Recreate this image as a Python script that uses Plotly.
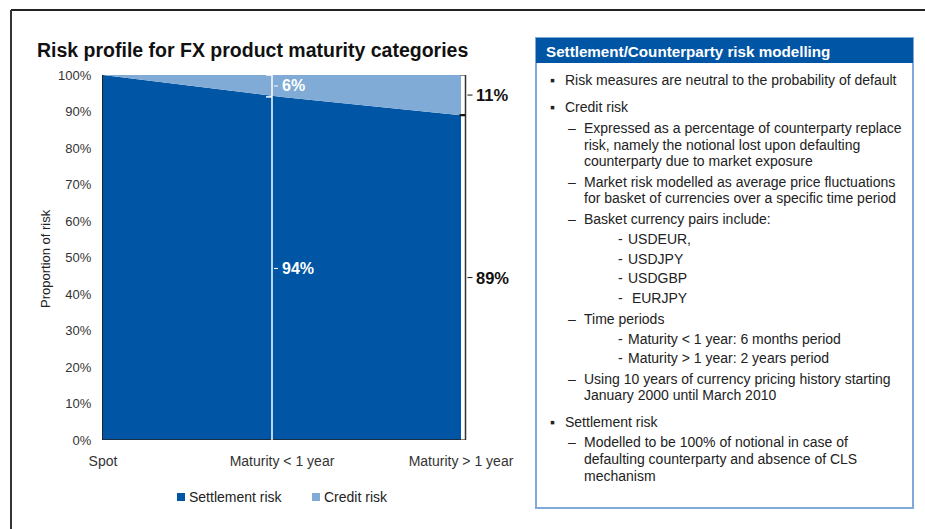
import plotly.graph_objects as go

# ---------------- data ----------------
categories = ["Spot", "Maturity < 1 year", "Maturity > 1 year"]
settlement_risk = [100, 94, 89]
credit_risk = [0, 6, 11]
y_tick_values = [0, 10, 20, 30, 40, 50, 60, 70, 80, 90, 100]
y_tick_labels = [f"{v}%" for v in y_tick_values]
series_names = ["Settlement risk", "Credit risk"]

title_text = "Risk profile for FX product maturity categories"
y_title = "Proportion of risk"
panel_title = "Settlement/Counterparty risk modelling"
panel_items = [
    (0, "Risk measures are neutral to the probability of default"),
    (0, "Credit risk"),
    (1, "Expressed as a percentage of counterparty replace"),
    (-1, "risk, namely the notional lost upon defaulting"),
    (-1, "counterparty due to market exposure"),
    (1, "Market risk modelled as average price fluctuations"),
    (-1, "for basket of currencies over a specific time period"),
    (1, "Basket currency pairs include:"),
    (2, "USDEUR,"),
    (2, "USDJPY"),
    (2, "USDGBP"),
    (2, "\u00a0EURJPY"),
    (1, "Time periods"),
    (2, "Maturity < 1 year: 6 months period"),
    (2, "Maturity > 1 year: 2 years period"),
    (1, "Using 10 years of currency pricing history starting"),
    (-1, "January 2000 until March 2010"),
    (0, "Settlement risk"),
    (1, "Modelled to be 100% of notional in case of"),
    (-1, "defaulting counterparty and absence of CLS"),
    (-1, "mechanism"),
]

# ---------------- layout constants ----------------
W, H = 925, 529
L, R, T, B = 103, 405, 75, 89
PW = W - L - R
PH = H - T - B
UNIT = 179.0
X_MAX = PW / UNIT
PLOT_BOTTOM = H - B

DARK = "#0055A5"
LIGHT = "#80ABD6"
FONT = "Liberation Sans, Arial, sans-serif"


def pxx(p):
    return (p - L) / PW


def pxy(p):
    return (PLOT_BOTTOM - p) / PH


fig = go.Figure()
xs = list(range(len(categories)))
fig.add_trace(go.Scatter(x=xs, y=settlement_risk, stackgroup="one", mode="none",
                         fillcolor=DARK, name=series_names[0], showlegend=False,
                         hoverinfo="skip"))
fig.add_trace(go.Scatter(x=xs, y=credit_risk, stackgroup="one", mode="none",
                         fillcolor=LIGHT, name=series_names[1], showlegend=False,
                         hoverinfo="skip"))

shapes = []
annotations = []

# bottom axis line (only under the area)
shapes.append(dict(type="line", xref="x", yref="y", x0=0, x1=xs[-1], y0=0, y1=0,
                   line=dict(color="#222", width=1.5)))

# ----- middle white bracket (Maturity < 1 year) -----
mid = 1
mx = mid - 10 / UNIT
top_mid = settlement_risk[mid] + credit_risk[mid]
shapes.append(dict(type="line", xref="x", yref="y", x0=mx, x1=mx, y0=0, y1=top_mid,
                   line=dict(color="white", width=1.5)))
for yv in (top_mid, settlement_risk[mid]):
    shapes.append(dict(type="line", xref="x", yref="y", x0=mx - 6 / UNIT, x1=mx, y0=yv, y1=yv,
                       line=dict(color="white", width=1.5)))
lab_mid = [(settlement_risk[mid] + credit_risk[mid] / 2, credit_risk[mid]),
           (settlement_risk[mid] / 2, settlement_risk[mid])]
for yv, val in lab_mid:
    shapes.append(dict(type="line", xref="x", yref="y", x0=mx + 2 / UNIT, x1=mx + 6 / UNIT,
                       y0=yv, y1=yv, line=dict(color="white", width=1)))
    annotations.append(dict(xref="x", yref="y", x=mx + 8 / UNIT, y=yv, text=f"{val}%",
                            showarrow=False, xanchor="left", yanchor="middle",
                            font=dict(family=FONT, size=16, color="white", weight="bold")))

# ----- right black bracket (Maturity > 1 year) -----
last = len(categories) - 1
rx = last + 4.5 / UNIT
top_last = settlement_risk[last] + credit_risk[last]
shapes.append(dict(type="line", xref="x", yref="y", x0=rx, x1=rx, y0=0, y1=top_last,
                   line=dict(color="#333", width=1.5)))
for yv, w in ((top_last, 1.2), (0, 1.2)):
    shapes.append(dict(type="line", xref="x", yref="y", x0=rx - 5 / UNIT, x1=rx, y0=yv, y1=yv,
                       line=dict(color="#333", width=w)))
shapes.append(dict(type="line", xref="x", yref="y", x0=rx - 6 / UNIT, x1=rx, y0=settlement_risk[last],
                   y1=settlement_risk[last], line=dict(color="#111", width=2.2)))
lab_last = [(settlement_risk[last] + credit_risk[last] / 2, credit_risk[last]),
            (settlement_risk[last] / 2, settlement_risk[last])]
for yv, val in lab_last:
    shapes.append(dict(type="line", xref="x", yref="y", x0=rx + 2 / UNIT, x1=rx + 7 / UNIT,
                       y0=yv, y1=yv, line=dict(color="#111", width=1)))
    annotations.append(dict(xref="x", yref="y", x=rx + 8 / UNIT, y=yv, text=f"{val}%",
                            showarrow=False, xanchor="left", yanchor="middle",
                            font=dict(family=FONT, size=16.5, color="#111", weight="bold")))

# ----- title -----
annotations.append(dict(xref="paper", yref="paper", x=pxx(35), y=pxy(50), text=title_text,
                        showarrow=False, xanchor="left", yanchor="middle",
                        font=dict(family=FONT, size=19.5, color="#111", weight="bold")))
# y axis title
annotations.append(dict(xref="paper", yref="paper", x=pxx(45), y=pxy(259), text=y_title,
                        showarrow=False, textangle=-90, xanchor="center", yanchor="middle",
                        font=dict(family=FONT, size=13, color="#222")))

# ----- legend (manual) -----
leg = [(177, series_names[0], DARK), (312, series_names[1], LIGHT)]
for lx, name, col in leg:
    shapes.append(dict(type="rect", xref="paper", yref="paper", x0=pxx(lx), x1=pxx(lx + 8),
                       y0=pxy(501), y1=pxy(493), fillcolor=col, line=dict(width=0)))
    annotations.append(dict(xref="paper", yref="paper", x=pxx(lx + 10), y=pxy(497), text=name,
                            showarrow=False, xanchor="left", yanchor="middle",
                            font=dict(family=FONT, size=14, color="#222")))

# ----- outer frame -----
shapes.append(dict(type="line", xref="paper", yref="paper", x0=pxx(11), x1=pxx(W), y0=pxy(10), y1=pxy(10),
                   line=dict(color="#222", width=2)))
shapes.append(dict(type="line", xref="paper", yref="paper", x0=pxx(11), x1=pxx(11), y0=pxy(10), y1=pxy(H),
                   line=dict(color="#333", width=2)))

# ----- right panel -----
shapes.append(dict(type="rect", xref="paper", yref="paper", x0=pxx(536), x1=pxx(913),
                   y0=pxy(508), y1=pxy(38), fillcolor="white", line=dict(color="#7EA9D8", width=2)))
shapes.append(dict(type="rect", xref="paper", yref="paper", x0=pxx(536), x1=pxx(913),
                   y0=pxy(63), y1=pxy(38), fillcolor=DARK, line=dict(width=0)))
annotations.append(dict(xref="paper", yref="paper", x=pxx(544), y=pxy(51), text=panel_title,
                        showarrow=False, xanchor="left", yanchor="middle",
                        font=dict(family=FONT, size=15.2, color="white", weight="bold")))

line_y = [80, 107, 128, 145, 161, 182, 198, 219, 239, 259, 278, 298, 319, 339, 358, 379, 395,
          422, 442, 459, 476]
markers = {0: ("\u25aa", 548, 563), 1: ("\u2013", 566, 582), 2: ("-", 616, 626)}
cur_level = 0
for (lvl, txt), yy in zip(panel_items, line_y):
    if lvl >= 0:
        cur_level = lvl
        mk, mkx, _ = markers[lvl]
        annotations.append(dict(xref="paper", yref="paper", x=pxx(mkx), y=pxy(yy), text=mk,
                                showarrow=False, xanchor="left", yanchor="middle",
                                font=dict(family=FONT, size=14, color="#222")))
    tx = markers[cur_level][2]
    annotations.append(dict(xref="paper", yref="paper", x=pxx(tx), y=pxy(yy), text=txt,
                            showarrow=False, xanchor="left", yanchor="middle",
                            font=dict(family=FONT, size=14, color="#222")))

fig.update_layout(
    width=W, height=H,
    margin=dict(l=L, r=R, t=T, b=B, autoexpand=False),
    paper_bgcolor="white", plot_bgcolor="rgba(0,0,0,0)",
    showlegend=False,
    shapes=shapes, annotations=annotations,
    xaxis=dict(range=[0, X_MAX], tickvals=xs, ticktext=categories, showline=False,
               showgrid=False, zeroline=False, ticks="", ticklabelstandoff=11,
               tickfont=dict(family=FONT, size=14, color="#333"), fixedrange=True),
    yaxis=dict(range=[0, 100], tickvals=y_tick_values, ticktext=y_tick_labels, showline=True,
               linecolor="#222", linewidth=1.2, showgrid=False, zeroline=False, ticks="",
               ticklabelstandoff=8, tickfont=dict(family=FONT, size=13, color="#333"),
               fixedrange=True),
)

fig.write_html("out.html", config={"displayModeBar": False},
               post_script="document.body.style.margin='0';document.body.style.overflow='hidden';")
